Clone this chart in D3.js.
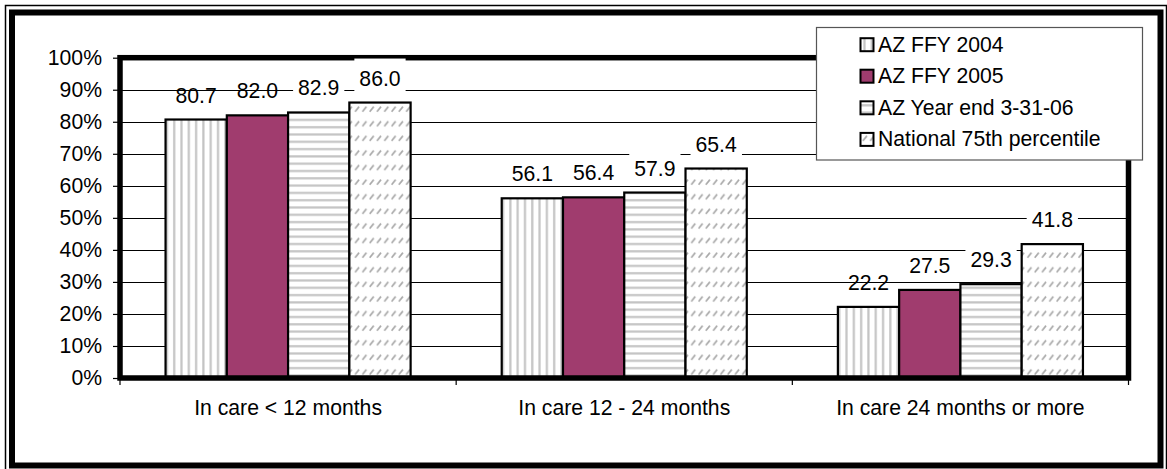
<!DOCTYPE html>
<html>
<head>
<meta charset="utf-8">
<script src="https://cdn.jsdelivr.net/npm/d3@7"></script>
<style>
  html, body { margin: 0; padding: 0; background: #fff; }
  svg { display: block; }
  text { font-family: "Liberation Sans", Arial, sans-serif; }
</style>
</head>
<body>
<svg id="chart" width="1167" height="469"></svg>
<script>
// ---- data ----
const categories = ["In care < 12 months", "In care 12 - 24 months", "In care 24 months or more"];
const seriesNames = ["AZ FFY 2004", "AZ FFY 2005", "AZ Year end 3-31-06", "National 75th percentile"];
const azFFY2004 = [80.7, 56.1, 22.2];
const azFFY2005 = [82.0, 56.4, 27.5];
const azYearEnd = [82.9, 57.9, 29.3];
const national75 = [86.0, 65.4, 41.8];
const yTickValues = [0, 10, 20, 30, 40, 50, 60, 70, 80, 90, 100];
const yTickLabels = ["0%", "10%", "20%", "30%", "40%", "50%", "60%", "70%", "80%", "90%", "100%"];

const seriesValues = [azFFY2004, azFFY2005, azYearEnd, national75];

// ---- layout ----
const W = 1167, H = 469;
const plotL = 120, plotR = 1128.5, plotT = 57.7, plotB = 378;
const FS = 21.2;

const svg = d3.select("#chart");
const defs = svg.append("defs");

// patterns
const pitch = 7.3;
const pV = defs.append("pattern").attr("id", "pv").attr("patternUnits", "userSpaceOnUse")
  .attr("width", pitch).attr("height", pitch);
pV.append("rect").attr("width", pitch).attr("height", pitch).attr("fill", "#fff");
pV.append("rect").attr("x", 2).attr("y", 0).attr("width", 2.2).attr("height", pitch).attr("fill", "#c4c4c4");

const pH = defs.append("pattern").attr("id", "ph").attr("patternUnits", "userSpaceOnUse")
  .attr("width", pitch).attr("height", pitch);
pH.append("rect").attr("width", pitch).attr("height", pitch).attr("fill", "#fff");
pH.append("rect").attr("x", 0).attr("y", 2).attr("width", pitch).attr("height", 2.2).attr("fill", "#c4c4c4");

const pD = defs.append("pattern").attr("id", "pd").attr("patternUnits", "userSpaceOnUse")
  .attr("width", pitch).attr("height", pitch * 2);
pD.append("rect").attr("width", pitch).attr("height", pitch * 2).attr("fill", "#fff");
pD.append("line").attr("x1", 1.5).attr("y1", 9.5).attr("x2", 5.5).attr("y2", 4.5)
  .attr("stroke", "#a8a8a8").attr("stroke-width", 1.6);

const fills = ["url(#pv)", "#a03c6e", "url(#ph)", "url(#pd)"];

// outer frame
svg.append("rect").attr("x", 5.5).attr("y", 5.5).attr("width", 1161).attr("height", 470)
  .attr("fill", "none").attr("stroke", "#000").attr("stroke-width", 1.5);
svg.append("rect").attr("x", 12).attr("y", 12.5).attr("width", 1148.5).attr("height", 453)
  .attr("fill", "#fff").attr("stroke", "#000").attr("stroke-width", 6);

// scales
const x0 = d3.scaleBand().domain(categories).range([plotL, plotR]).paddingInner(0).paddingOuter(0);
const bw = x0.bandwidth();
const gap = bw * 0.271;
const x1 = d3.scaleBand().domain(seriesNames).range([gap / 2, bw - gap / 2]).padding(0);
const y = d3.scaleLinear().domain([0, 100]).range([plotB, plotT]);

// gridlines
svg.append("g").selectAll("line").data(yTickValues.filter(v => v > 0 && v < 100)).join("line")
  .attr("x1", plotL).attr("x2", plotR)
  .attr("y1", d => Math.round(y(d)) + 0.5).attr("y2", d => Math.round(y(d)) + 0.5)
  .attr("stroke", "#000").attr("stroke-width", 1);

// y axis
const yAxis = d3.axisLeft(y).tickValues(yTickValues)
  .tickFormat((d, i) => yTickLabels[i]).tickSize(5).tickPadding(11);
const gy = svg.append("g").attr("transform", `translate(${plotL - 2},0)`).call(yAxis);
gy.select(".domain").remove();
gy.selectAll(".tick line").attr("stroke", "#000").attr("stroke-width", 1.2);
gy.selectAll(".tick text").attr("font-size", FS).attr("fill", "#000")
  .style("font-family", '"Liberation Sans", Arial, sans-serif');

// x axis ticks at band boundaries
const bounds = categories.map(c => x0(c)).concat([plotR]);
svg.append("g").selectAll("line").data(bounds).join("line")
  .attr("x1", d => d).attr("x2", d => d).attr("y1", plotB + 2).attr("y2", plotB + 7)
  .attr("stroke", "#000").attr("stroke-width", 1.2);

// bars
const groups = svg.append("g").selectAll("g").data(categories).join("g")
  .attr("transform", c => `translate(${x0(c)},0)`);
groups.each(function (c, ci) {
  const g = d3.select(this);
  seriesNames.forEach((s, si) => {
    const v = seriesValues[si][ci];
    g.append("rect")
      .attr("x", x1(s)).attr("y", y(v))
      .attr("width", x1.bandwidth()).attr("height", plotB - y(v))
      .attr("fill", fills[si]).attr("stroke", "#000").attr("stroke-width", 2.2);
  });
});

// plot border
svg.append("rect").attr("x", plotL).attr("y", plotT).attr("width", plotR - plotL).attr("height", plotB - plotT)
  .attr("fill", "none").attr("stroke", "#000").attr("stroke-width", 5.5);

// data labels
const lab = svg.append("g");
categories.forEach((c, ci) => {
  seriesNames.forEach((s, si) => {
    const v = seriesValues[si][ci];
    const cx = x0(c) + x1(s) + x1.bandwidth() / 2;
    const by = y(v) - 17;
    const g = lab.append("g");
    const t = g.append("text").attr("x", cx).attr("y", by).attr("text-anchor", "middle")
      .attr("font-size", FS).attr("fill", "#000").text(v.toFixed(1));
    if (si >= 2) {
      const bb = t.node().getBBox();
      g.insert("rect", "text").attr("x", bb.x - 5).attr("y", bb.y - 8)
        .attr("width", bb.width + 10).attr("height", bb.height + 11).attr("fill", "#fff");
    }
  });
});

// category labels
svg.append("g").selectAll("text").data(categories).join("text")
  .attr("x", c => x0(c) + bw / 2).attr("y", 415).attr("text-anchor", "middle")
  .attr("font-size", FS).attr("fill", "#000").text(c => c);

// legend
const leg = svg.append("g");
leg.append("rect").attr("x", 816.5).attr("y", 27.5).attr("width", 326).attr("height", 132.5)
  .attr("fill", "#fff").attr("stroke", "#555").attr("stroke-width", 1.2);
const legBase = [51.7, 83.2, 114.8, 146.4];
seriesNames.forEach((s, si) => {
  leg.append("rect").attr("x", 860.5).attr("y", legBase[si] - 13.5).attr("width", 13).attr("height", 13)
    .attr("fill", fills[si]).attr("stroke", "#000").attr("stroke-width", 2);
  leg.append("text").attr("x", 878).attr("y", legBase[si]).attr("font-size", FS).attr("fill", "#000").text(s);
});
</script>
</body>
</html>
